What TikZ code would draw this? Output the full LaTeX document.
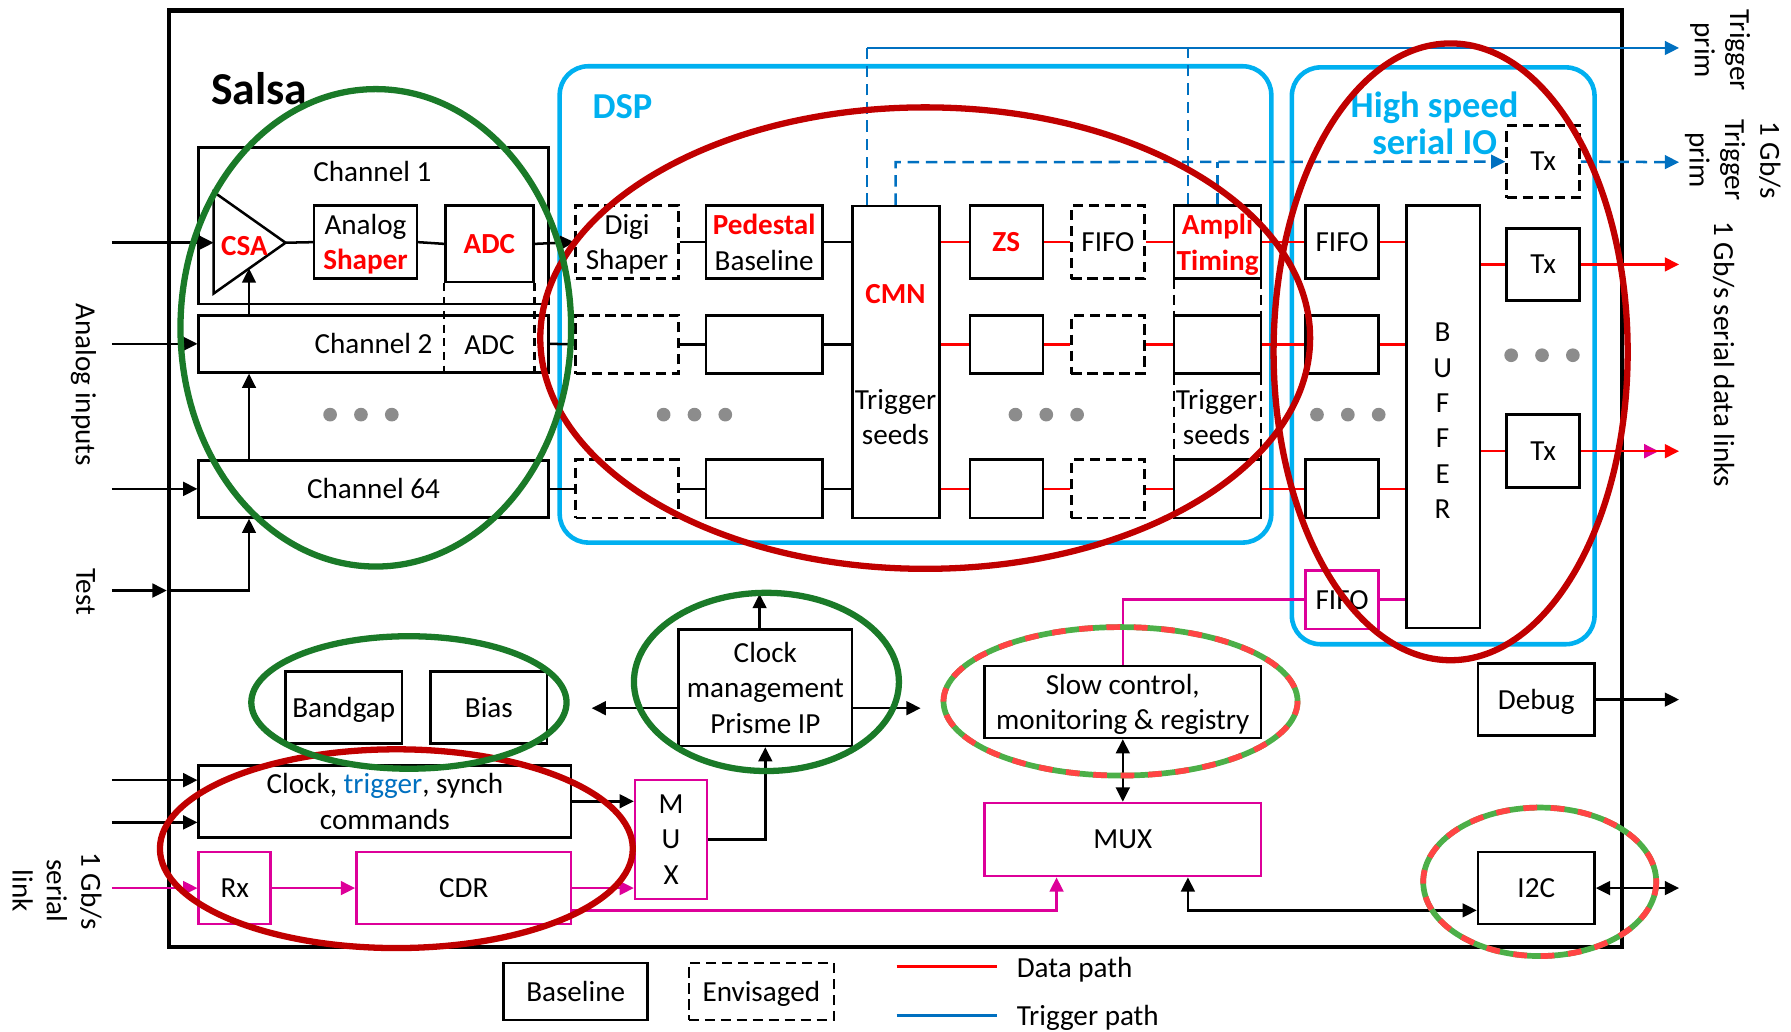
\documentclass[tikz,border=0pt]{standalone}
\usepackage{fontspec}
\setmainfont{Carlito}
\usetikzlibrary{arrows.meta}
\definecolor{cyanbox}{HTML}{00B0F0}
\definecolor{trig}{HTML}{0070C0}
\definecolor{datared}{HTML}{FF0000}
\definecolor{mag}{HTML}{DD0099}
\definecolor{dred}{HTML}{C00000}
\definecolor{dgreen}{HTML}{1A7A28}
\definecolor{lgreen}{HTML}{4CAF48}
\definecolor{lred}{HTML}{FF4444}
\definecolor{dotgray}{HTML}{8C8C8C}
\newcommand\fn{\fontsize{25.5}{31}\selectfont}
\newcommand\rb[1]{\textcolor{datared}{\bfseries #1}}
\begin{document}
\begin{tikzpicture}[x=1pt,y=-1pt,font=\fn,
  box/.style={draw, fill=white, line width=2.2pt, inner sep=0pt, align=center, text depth=0pt},
  dbox/.style={box, dash pattern=on 9pt off 5pt},
  mbox/.style={box, draw=mag},
  lbl/.style={inner sep=0pt, align=center},
  ln/.style={line width=2.2pt},
  arr/.style={ln, -{Triangle[length=12.5pt,width=12pt]}},
  dbl/.style={ln, {Triangle[length=12.5pt,width=12pt]}-{Triangle[length=12.5pt,width=12pt]}},
  dl/.style={ln, datared},
  tl/.style={ln, trig},
  td/.style={tl, dash pattern=on 10pt off 6pt},
  dotc/.style={circle, fill=dotgray, minimum size=12pt, inner sep=0pt},
  bigell/.style={line width=5.5pt},
  rbox/.style={draw=cyanbox, line width=4pt, rounded corners=25pt, inner sep=0pt},
]
\useasboundingbox (0,0) rectangle (1568,903);

% ---------- outer frame ----------
\node[draw, line width=4pt, minimum width=1272, minimum height=820, inner sep=0pt] (salsa) at (784,419) {};
\node[lbl, font=\fontsize{40}{48}\selectfont\bfseries] (salsat) at (227,78) {Salsa};

% ---------- channels ----------
\node[box, minimum width=306, minimum height=137] (ch1) at (327,197.5) {};
\node[lbl] (ch1t) at (326,150) {Channel 1};
\node[box, minimum width=306, minimum height=50] (ch2) at (327,301) {Channel 2};
\node[box, minimum width=306, minimum height=50] (ch64) at (327,428) {Channel 64};

\coordinate (csaA) at (187,168);
\coordinate (csaB) at (187,257);
\coordinate (csaC) at (250,212.5);
\coordinate (csaIn) at (187,212.5);
\coordinate (csaBot) at (218,235);
\draw[ln, fill=white] (csaA) -- (csaC) -- (csaB) -- cycle;
\node[lbl] (csa) at (214,215) {\rb{CSA}};
\node[box, minimum width=90, minimum height=64] (ash) at (320,212) {Analog\\\rb{Shaper}};
\node[box, minimum width=77, minimum height=67] (adc) at (428.5,213.5) {\rb{ADC}};
\draw[ln, dash pattern=on 7pt off 5pt] (adc.south west) -- (adc.south west |- ch2.south);
\draw[ln, dash pattern=on 7pt off 5pt] (adc.south east) -- (adc.south east |- ch2.south);
\node[lbl] (adc2) at (428.5,302) {ADC};
\draw[ln] (csaC) -- (ash.west);
\draw[ln] (ash.east) -- (adc.west);

\foreach \x/\n in {289/a,316/b,343/c,581/d,608/e,635/f,889/g,916/h,943/i,1153/j,1180/k,1207/l}
  \node[dotc] (dot\n) at (\x,363) {};
\foreach \x/\n in {1323/a,1350/b,1377/c}
  \node[dotc] (tdot\n) at (\x,311) {};

% inputs
\coordinate (in1) at (98,212.5);
\coordinate (in2) at (98,301);
\coordinate (in3) at (98,428);
\coordinate (intest) at (98,517);
\coordinate (testc) at (218,517);
\draw[arr] (in1) -- (csaIn);
\draw[arr] (in2) -- (ch2.west);
\draw[arr] (in3) -- (ch64.west);
\draw[arr] (intest) -- (salsa.west |- intest);
\draw[arr] (salsa.west |- intest) -- (testc) -- (testc |- ch64.south);
\draw[arr] (testc |- ch64.north) -- (testc |- ch2.south);
\draw[arr] (testc |- ch2.north) -- (csaBot);
\node[lbl, rotate=-90] (ain) at (73,337) {Analog inputs};
\node[lbl, rotate=-90] (tst) at (75,518) {Test};

% ---------- DSP ----------
\node[rbox, minimum width=623, minimum height=417] (dsp) at (801.5,266.5) {};
\node[lbl, text=cyanbox, font=\fontsize{32}{38}\selectfont\bfseries] (dspt) at (545,93) {DSP};

% blue trigger lines
\coordinate (tA) at (759,42);
\coordinate (tB) at (1040,42);
\coordinate (tOut) at (1470,42);
\coordinate (tC) at (784,142);
\coordinate (tD) at (1066,142);
\coordinate (tOut2) at (1470,142);

% trigger seeds dashed column
\draw[ln, dash pattern=on 9pt off 5pt] (1028,244) -- (1028,403);
\draw[ln, dash pattern=on 9pt off 5pt] (1104,244) -- (1104,403);
\node[lbl] (ampts) at (1065,365) {Trigger\\seeds};

% row 1
\node[dbox, minimum width=90, minimum height=64] (digi1) at (549,212) {Digi\\Shaper};
\node[box, minimum width=102, minimum height=64] (ped1) at (669,212) {\rb{Pedestal}\\Baseline};
\node[box, minimum width=76, minimum height=273] (cmn) at (784.5,317) {};
\node[lbl] (cmnt) at (784,257) {\rb{CMN}};
\node[lbl] (cmns) at (784,365) {Trigger\\seeds};
\node[box, minimum width=64, minimum height=64] (zs1) at (881,212) {\rb{ZS}};
\node[dbox, minimum width=64, minimum height=64] (fifo1) at (970,212) {FIFO};
\node[box, minimum width=76, minimum height=64] (amp1) at (1066,212) {\rb{Ampli}\\\rb{Timing}};
% row 2
\node[dbox, minimum width=90, minimum height=51] (digi2) at (549,301.5) {};
\node[box, minimum width=102, minimum height=51] (ped2) at (669,301.5) {};
\node[box, minimum width=64, minimum height=51] (zs2) at (881,301.5) {};
\node[dbox, minimum width=64, minimum height=51] (fifo2) at (970,301.5) {};
\node[box, minimum width=76, minimum height=51] (amp2) at (1066,301.5) {};
% row 3
\node[dbox, minimum width=90, minimum height=51] (digi3) at (549,428) {};
\node[box, minimum width=102, minimum height=51] (ped3) at (669,428) {};
\node[box, minimum width=64, minimum height=51] (zs3) at (881,428) {};
\node[dbox, minimum width=64, minimum height=51] (fifo3) at (970,428) {};
\node[box, minimum width=76, minimum height=51] (amp3) at (1066,428) {};

\draw[td] (tA |- cmn.north) -- (tA);
\draw[td] (tB |- amp1.north) -- (tB);
\draw[tl, -{Triangle[length=12.5pt,width=12pt]}] (tA) -- (tOut);

% ---------- high speed serial IO ----------
\node[rbox, minimum width=265, minimum height=505] (hs) at (1263.5,311.5) {};
\node[lbl, text=cyanbox, font=\fontsize{32}{32}\selectfont\bfseries] (hst) at (1256,108) {High speed\\serial IO};
\node[box, minimum width=64, minimum height=64] (hf1) at (1175,212) {FIFO};
\node[box, minimum width=64, minimum height=51] (hf2) at (1175,301.5) {};
\node[box, minimum width=64, minimum height=51] (hf3) at (1175,428) {};
\node[mbox, minimum width=64, minimum height=51] (mf) at (1175,525) {FIFO};
\node[box, minimum width=64, minimum height=370] (buf) at (1263.5,365) {};
\node[lbl] (buft) at (1263,368.5) {B\\U\\F\\F\\E\\R};
\node[dbox, minimum width=64, minimum height=63] (tx0) at (1351,141.5) {Tx};
\node[box, minimum width=64, minimum height=63] (tx1) at (1351,231.5) {Tx};
\node[box, minimum width=64, minimum height=64] (tx2) at (1351,395) {Tx};

\draw[td, -{Triangle[length=12.5pt,width=12pt]}] (tC |- cmn.north) -- (tC) -- (tx0.west);
\draw[td] (tD |- amp1.north) -- (tD);
\draw[td, -{Triangle[length=12.5pt,width=12pt]}] (tx0.east) -- (tOut2);

% row connectors
\draw[ln] (ch2.east) -- (digi2.west);
\draw[ln] (ch64.east) -- (digi3.west);
\draw[arr] (adc.east) -- (digi1.west);
\foreach \r in {1,2,3}{
  \draw[ln] (digi\r.east) -- (ped\r.west);
  \draw[ln] (ped\r.east) -- (cmn.west |- ped\r.east);
  \draw[dl] (cmn.east |- zs\r.west) -- (zs\r.west);
  \draw[dl] (zs\r.east) -- (fifo\r.west);
  \draw[dl] (fifo\r.east) -- (amp\r.west);
  \draw[dl] (amp\r.east) -- (hf\r.west);
  \draw[dl] (hf\r.east) -- (buf.west |- hf\r.east);
}
\coordinate (out1) at (1470,231.5);
\coordinate (out2) at (1470,395);
\coordinate (out2m) at (1452,395);
\draw[dl] (buf.east |- tx1.west) -- (tx1.west);
\draw[dl] (buf.east |- tx2.west) -- (tx2.west);
\draw[arr, datared] (tx1.east) -- (out1);
\draw[arr, mag] (tx2.east) -- (out2m);
\draw[arr, datared] (tx2.east) -- (out2);

\node[lbl, rotate=-90] (rl1) at (1506,44) {Trigger\\prim};
\node[lbl, rotate=-90] (rl2) at (1517,140) {1 Gb/s\\Trigger\\prim};
\node[lbl, rotate=-90] (rl3) at (1509,310) {1 Gb/s serial data links};

% ---------- lower part ----------
\node[box, minimum width=102, minimum height=63] (bandgap) at (301,619.5) {Bandgap};
\node[box, minimum width=102, minimum height=63] (bias) at (428,619.5) {Bias};
\node[box, minimum width=326, minimum height=63] (clkcmd) at (337,701.5) {Clock, \textcolor{trig}{trigger}, synch\\commands};
\node[mbox, minimum width=63, minimum height=63] (rx) at (205.5,777.5) {Rx};
\node[mbox, minimum width=188, minimum height=63] (cdr) at (406,777.5) {CDR};
\node[mbox, minimum width=63, minimum height=104] (mux1) at (587.5,735) {M\\U\\X};
\node[box, minimum width=152, minimum height=102] (clkm) at (670,602) {Clock\\management\\Prisme IP};
\node[box, minimum width=242, minimum height=63] (slow) at (983,614.5) {Slow control,\\monitoring \& registry};
\node[mbox, minimum width=242, minimum height=64] (mux2) at (983,735) {MUX};
\node[box, minimum width=102, minimum height=63] (debug) at (1345,612.5) {Debug};
\node[box, minimum width=102, minimum height=63] (i2c) at (1345,777.5) {I2C};

\coordinate (ci1) at (98,683);
\coordinate (ci2) at (98,720);
\coordinate (ci3) at (98,777.5);
\draw[arr] (ci1) -- (clkcmd.west |- ci1);
\draw[arr] (ci2) -- (clkcmd.west |- ci2);
\draw[arr, mag] (ci3) -- (rx.west);
\draw[arr, mag] (rx.east) -- (cdr.west);
\draw[arr, mag] (cdr.east) -- (mux1.west |- cdr.east);
\draw[arr] (clkcmd.east) -- (mux1.west |- clkcmd.east);
\draw[arr] (mux1.east) -- (clkm.south |- mux1.east) -- (clkm.south);
\coordinate (cu) at (665,520);
\coordinate (cl) at (518,620);
\coordinate (cr) at (806,620);
\draw[arr] (cu |- clkm.north) -- (cu);
\draw[arr] (clkm.west |- cl) -- (cl);
\draw[arr] (clkm.east |- cr) -- (cr);
\draw[dbl] (slow.south) -- (mux2.north);
\coordinate (mc) at (925,797);
\coordinate (mi) at (1040,797);
\draw[arr, mag] (cdr.east |- mc) -- (mc) -- (mc |- mux2.south);
\draw[dbl] (mi |- mux2.south) -- (mi) -- (i2c.west |- mi);
\coordinate (io) at (1470,777.5);
\coordinate (dout) at (1470,612.5);
\draw[dbl] (i2c.east) -- (io);
\draw[arr] (debug.east) -- (dout);
\draw[ln, mag] (mf.east) -- (buf.west |- mf.east);
\draw[ln, mag] (mf.west) -- (slow.north |- mf.west) -- (slow.north);

\node[lbl, rotate=-90, font=\fontsize{25.5}{30}\selectfont] (sl) at (50,780) {1 Gb/s\\serial\\link};

% ---------- legend ----------
\node[box, minimum width=126, minimum height=50] (legb) at (504,868) {Baseline};
\node[dbox, minimum width=127, minimum height=50] (lege) at (666.5,868) {Envisaged};
\coordinate (ld1) at (785,846);
\coordinate (ld2) at (873,846);
\coordinate (lt1) at (785,889);
\coordinate (lt2) at (873,889);
\draw[dl] (ld1) -- (ld2);
\draw[tl] (lt1) -- (lt2);
\node[lbl, anchor=west] (ldt) at (890,849) {Data path};
\node[lbl, anchor=west] (ltt) at (890,891) {Trigger path};

% ---------- highlight ellipses ----------
\draw[bigell, dred] (810,296) ellipse [x radius=337, y radius=202];
\draw[bigell, dred] (1270,308) ellipse [x radius=155, y radius=270];
\draw[bigell, dred] (347,743) ellipse [x radius=207, y radius=87];
\draw[bigell, dgreen] (329,287) ellipse [x radius=171, y radius=209];
\draw[bigell, dgreen] (358,615) ellipse [x radius=138, y radius=58];
\draw[bigell, dgreen] (671,597) ellipse [x radius=116, y radius=78];
\draw[line width=5pt, lgreen] (981,614) ellipse [x radius=155, y radius=65];
\draw[line width=5pt, lred, dash pattern=on 12pt off 12pt] (981,614) ellipse [x radius=155, y radius=65];
\draw[line width=5pt, lgreen] (1348,772) ellipse [x radius=102, y radius=65];
\draw[line width=5pt, lred, dash pattern=on 12pt off 12pt] (1348,772) ellipse [x radius=102, y radius=65];
\end{tikzpicture}
\end{document}
